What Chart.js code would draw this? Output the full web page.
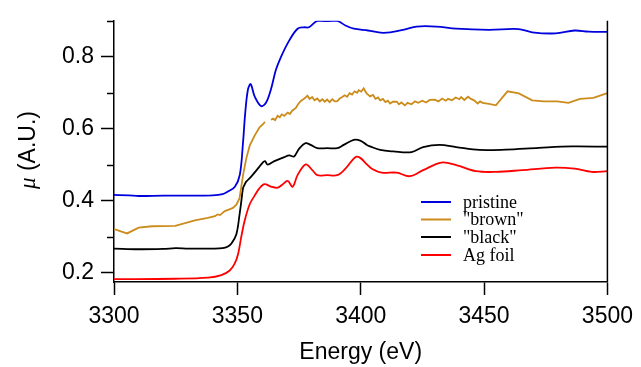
<!DOCTYPE html>
<html>
<head>
<meta charset="utf-8">
<script src="https://cdn.jsdelivr.net/npm/chart.js@4.4.0/dist/chart.umd.min.js"></script>
<style>
  html, body { margin: 0; padding: 0; background: #fff; }
  #wrap { width: 641px; height: 367px; }
</style>
</head>
<body>
<div id="wrap"><canvas id="chart" width="641" height="367"></canvas></div>
<script>
// tick values
var xTicks = [3300, 3350, 3400, 3450, 3500];
var yTicks = [0.2, 0.3, 0.4, 0.5, 0.6, 0.7, 0.8, 0.9];
var yLabeled = [0.2, 0.4, 0.6, 0.8];

var seriesNames = ['pristine', '"brown"', '"black"', 'Ag foil'];

// pristine
var pristineE  = [3300, 3306, 3310, 3320, 3330, 3340, 3344, 3346, 3349, 3351, 3352.3, 3353.2, 3354.3, 3355.4, 3357, 3359.6, 3361.6, 3363.6, 3365.6, 3367.7, 3371, 3374.4, 3377, 3379, 3382.4, 3386, 3390.5, 3393.8, 3397.2, 3403, 3408, 3412, 3418, 3422.6, 3430.7, 3438.7, 3452, 3464, 3469.5, 3479, 3486.7, 3492.3, 3500];
var pristineMu = [0.416, 0.415, 0.413, 0.414, 0.414, 0.415, 0.418, 0.425, 0.439, 0.472, 0.562, 0.645, 0.709, 0.724, 0.690, 0.663, 0.672, 0.709, 0.763, 0.800, 0.845, 0.878, 0.882, 0.882, 0.900, 0.899, 0.900, 0.887, 0.878, 0.873, 0.867, 0.868, 0.876, 0.884, 0.884, 0.878, 0.875, 0.877, 0.868, 0.865, 0.873, 0.870, 0.869];

// "brown" (null = gap in the scan)
var brownE  = [3300, 3305.3, 3310, 3315.4, 3324.8, 3332.8, 3338, 3340.9, 3342, 3343, 3344.9, 3346.5, 3348.2, 3349.6, 3350.9, 3352.3, 3353.6, 3355, 3357, 3359, 3360.3, 3361.2, 3362.4, 3363.6, 3364.5, 3365.3, 3366.3, 3367.2, 3368, 3369, 3370.4, 3371.3, 3372.2, 3373.7, 3374.6, 3375.7, 3376.6, 3377.5, 3378.4, 3379.3, 3380.3, 3381.3, 3382.4, 3383.4, 3384.4, 3385.4, 3386.4, 3387.4, 3388.5, 3389.5, 3390.5, 3391.5, 3392.5, 3393.5, 3394.5, 3395.5, 3396.5, 3397.5, 3398.5, 3399.2, 3400.2, 3401.2, 3402.4, 3403.8, 3405, 3406, 3407, 3407.9, 3409, 3410, 3411, 3411.9, 3413, 3414.6, 3415.5, 3416.5, 3417.9, 3419, 3420.6, 3422, 3423.3, 3425, 3426.5, 3428, 3430, 3431.5, 3433, 3434.5, 3435.4, 3437, 3438.5, 3440, 3440.7, 3442, 3443.5, 3444.7, 3446, 3447.4, 3448.4, 3449.4, 3452, 3454.8, 3459.5, 3464.1, 3469.5, 3474.2, 3479.6, 3484.2, 3488.9, 3494.3, 3500];
var brownMu = [0.321, 0.309, 0.325, 0.329, 0.330, 0.345, 0.352, 0.357, 0.362, 0.360, 0.371, 0.375, 0.380, 0.389, 0.407, 0.471, 0.517, 0.553, 0.581, 0.604, 0.612, 0.619, null, 0.625, 0.628, 0.624, 0.636, 0.632, 0.640, 0.636, 0.645, 0.641, 0.650, 0.658, 0.668, 0.677, 0.681, 0.686, 0.692, 0.683, 0.688, 0.679, 0.684, 0.676, 0.682, 0.675, 0.681, 0.674, 0.682, 0.676, 0.677, 0.684, 0.688, 0.693, 0.689, 0.699, 0.695, 0.704, 0.700, 0.707, 0.703, 0.712, 0.698, 0.690, 0.694, 0.683, 0.687, 0.679, 0.683, 0.674, 0.678, 0.670, 0.675, 0.675, 0.668, 0.673, 0.665, 0.672, 0.668, 0.676, 0.672, 0.678, 0.673, 0.680, 0.681, 0.676, 0.684, 0.678, 0.683, 0.679, 0.687, 0.682, 0.688, 0.680, 0.689, 0.683, 0.679, 0.670, 0.676, 0.672, 0.669, 0.665, 0.704, 0.698, 0.679, 0.676, 0.676, 0.672, 0.683, 0.686, 0.699];

// "black"
var blackE  = [3300, 3310, 3320, 3325, 3330, 3340, 3344, 3346, 3347.6, 3349.6, 3350.9, 3351.6, 3352.3, 3352.9, 3353.6, 3355.6, 3358.3, 3360.3, 3361.2, 3362.3, 3365, 3369, 3371, 3373, 3375, 3377.7, 3379.7, 3382.4, 3386.4, 3390.5, 3393.1, 3397.2, 3399.8, 3402.5, 3403.8, 3407.9, 3413.2, 3420.6, 3425.3, 3432, 3438.7, 3448.1, 3458.8, 3472.2, 3485.6, 3500];
var blackMu = [0.267, 0.265, 0.266, 0.268, 0.267, 0.267, 0.268, 0.272, 0.281, 0.307, 0.362, 0.398, 0.435, 0.444, 0.453, 0.467, 0.489, 0.506, 0.510, 0.500, 0.510, 0.521, 0.526, 0.523, 0.544, 0.560, 0.555, 0.546, 0.546, 0.546, 0.555, 0.569, 0.567, 0.555, 0.551, 0.541, 0.537, 0.535, 0.549, 0.555, 0.549, 0.541, 0.542, 0.547, 0.551, 0.550];

// Ag foil
var agE  = [3300, 3324.8, 3338.2, 3343.5, 3346.9, 3348.9, 3350.3, 3351.6, 3352.9, 3355, 3357, 3359, 3361, 3363.6, 3366.3, 3368.3, 3370.4, 3372.4, 3374.4, 3377.7, 3380.4, 3382.4, 3386.4, 3390.5, 3393.8, 3397.8, 3399.8, 3402.5, 3404.5, 3408.5, 3414.6, 3419.9, 3425.3, 3432.7, 3438.7, 3446.7, 3454.8, 3465.5, 3478.9, 3486.7, 3493.6, 3500];
var agMu = [0.182, 0.183, 0.186, 0.193, 0.206, 0.225, 0.252, 0.300, 0.343, 0.390, 0.414, 0.435, 0.446, 0.439, 0.436, 0.445, 0.455, 0.439, 0.471, 0.501, 0.485, 0.471, 0.471, 0.471, 0.489, 0.521, 0.519, 0.501, 0.489, 0.478, 0.478, 0.468, 0.485, 0.506, 0.499, 0.482, 0.480, 0.485, 0.492, 0.489, 0.480, 0.482];

function pts(xs, ys) {
    return xs.map(function (x, i) { return {x: x, y: ys[i]}; });
}
function near(list, v) {
    return list.some(function (t) { return Math.abs(t - v) < 1e-6; });
}

var sansFont = 'Liberation Sans, Arial, Helvetica, sans-serif';
var serifFont = 'Liberation Serif, Times New Roman, serif';

// minor ticks, right frame line, y title, legend
var extras = {
    id: 'extras',
    afterDraw: function (chart) {
        var c = chart.ctx, a = chart.chartArea, ys = chart.scales.y;
        c.save();
        c.strokeStyle = '#000';
        c.lineWidth = 1.5;
        // right frame
        c.beginPath();
        c.moveTo(a.right, a.top);
        c.lineTo(a.right, a.bottom);
        c.stroke();
        // minor y ticks
        yTicks.forEach(function (v) {
            if (near(yLabeled, v)) return;
            var py = Math.round(ys.getPixelForValue(v)) + 0.5;
            c.beginPath();
            c.moveTo(a.left - 7, py);
            c.lineTo(a.left, py);
            c.stroke();
        });
        // y title: italic mu + normal text
        c.translate(29, 150);
        c.rotate(-Math.PI / 2);
        c.fillStyle = '#000';
        c.textBaseline = 'middle';
        var f1 = 'italic 23px ' + serifFont, f2 = '23px ' + sansFont;
        c.font = f1; var w1 = c.measureText('\u03bc').width;
        c.font = f2; var w2 = c.measureText(' (A.U.)').width;
        var sx = -(w1 + w2) / 2;
        c.font = f1; c.fillText('\u03bc', sx, 0);
        c.font = f2; c.fillText(' (A.U.)', sx + w1, 0);
        c.setTransform(1, 0, 0, 1, 0, 0);
        // legend
        var rows = [202, 219.5, 237, 255];
        c.font = '18px ' + serifFont;
        c.textBaseline = 'middle';
        chart.data.datasets.forEach(function (ds, i) {
            c.strokeStyle = ds.borderColor;
            c.lineWidth = 2;
            c.beginPath();
            c.moveTo(421, rows[i]);
            c.lineTo(451, rows[i]);
            c.stroke();
            c.fillStyle = '#000';
            c.fillText(ds.label, 463, rows[i] + 1);
        });
        c.restore();
    }
};

var colors = ['#0000dd', '#cc8c1c', '#000000', '#ff0000'];
var allE = [pristineE, brownE, blackE, agE];
var allMu = [pristineMu, brownMu, blackMu, agMu];

var ctx = document.getElementById('chart').getContext('2d');
var chart = new Chart(ctx, {
    type: 'line',
    data: {
        datasets: seriesNames.map(function (name, i) {
            return {
                label: name,
                data: pts(allE[i], allMu[i]),
                borderColor: colors[i],
                borderWidth: 1.8,
                pointRadius: 0,
                fill: false,
                spanGaps: false,
                tension: i === 1 ? 0 : 0.35
            };
        })
    },
    options: {
        responsive: false,
        animation: false,
        devicePixelRatio: 1,
        layout: { padding: { top: 17, right: 29, left: 0, bottom: 0 } },
        plugins: { legend: { display: false }, tooltip: { enabled: false } },
        scales: {
            x: {
                type: 'linear',
                min: 3300,
                max: 3500,
                afterBuildTicks: function (s) { s.ticks = xTicks.map(function (v) { return {value: v}; }); },
                afterFit: function (s) { s.height = 85; },
                grid: { drawOnChartArea: false, drawTicks: true, tickLength: 13, tickColor: '#000', tickWidth: 1.5 },
                border: { display: true, color: '#000', width: 1.5 },
                ticks: {
                    color: '#000', font: { family: sansFont, size: 23 }, padding: 8, maxRotation: 0,
                    callback: function (v) { return String(v); }
                },
                title: { display: true, text: 'Energy (eV)', color: '#000', font: { family: sansFont, size: 23 }, padding: { top: 0, bottom: 1 } }
            },
            y: {
                type: 'linear',
                min: 0.174,
                max: 0.9,
                afterBuildTicks: function (s) { s.ticks = yTicks.map(function (v) { return {value: v}; }); },
                afterFit: function (s) { s.width = 114; },
                grid: {
                    drawOnChartArea: false, drawTicks: true, tickLength: 13, tickWidth: 1.5,
                    tickColor: function (c) { return c.tick && near(yLabeled, c.tick.value) ? '#000' : 'rgba(0,0,0,0)'; }
                },
                border: { display: true, color: '#000', width: 1.5 },
                ticks: {
                    color: '#000', font: { family: sansFont, size: 23 }, padding: 7,
                    callback: function (v) { return near(yLabeled, v) ? v.toFixed(1) : ''; }
                }
            }
        }
    },
    plugins: [extras]
});
</script>
</body>
</html>
